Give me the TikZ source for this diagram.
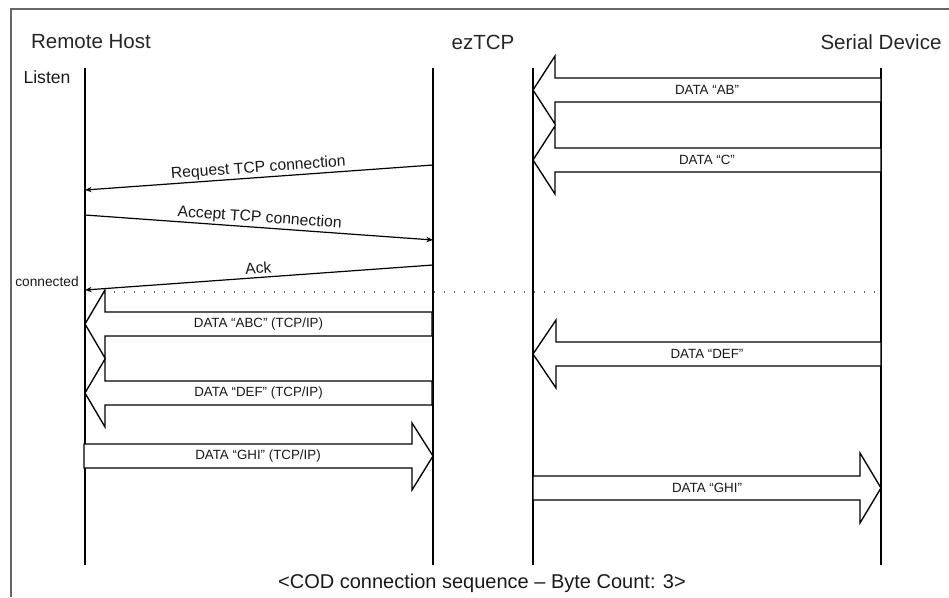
\documentclass[tikz,border=0pt]{standalone}
\usepackage{fontspec}
\setmainfont{Liberation Sans}
\usetikzlibrary{arrows.meta}
\newcommand{\blkL}[6]{% name, tip x, head base x, tail x, centre y, label
  \draw[blockarrow] (#4,#5-12) -- (#3,#5-12) -- (#3,#5-34) -- (#2,#5) -- (#3,#5+34) -- (#3,#5+12) -- (#4,#5+12) -- cycle;
  \node[datalabel] (#1) at ({(#2+#4)/2},#5) {#6};}
\begin{document}
\begin{tikzpicture}[x=0.75pt,y=-0.75pt,
  lifeline/.style={line width=1.2pt, black},
  msgline/.style={line width=0.9pt, black},
  tipS/.style={{Stealth[length=5pt,width=4pt]}-},
  tipE/.style={-{Stealth[length=5pt,width=4pt]}},
  blockarrow/.style={draw=black, line width=1pt, fill=white, line join=miter},
  datalabel/.style={font=\fontsize{10}{12}\selectfont, inner sep=0pt, text=black!90},
  titletext/.style={font=\fontsize{15.4}{18}\selectfont, text=black!85},
  msglabel/.style={font=\fontsize{11.8}{14}\selectfont, sloped, above=0.5pt, inner sep=0.5pt, text=black!90},
  dotline/.style={black!60, line width=0.8pt, dash pattern=on 0.8pt off 6.7pt}
]
\useasboundingbox (0,0) rectangle (949,597);
% frame
\draw[black!60, line width=1.6pt] (11,597) -- (11,9) -- (949,9);

% titles
\node[titletext] (rh) at (91,42) {Remote Host};
\node[titletext] (ez) at (483,42) {ezTCP};
\node[titletext] (sd) at (881,42) {Serial Device};
\node[font=\fontsize{13.2}{15}\selectfont, text=black!90] (listen) at (47,77) {Listen};
\node[font=\fontsize{10.3}{12}\selectfont, text=black!90] (conn) at (47,282) {connected};

% lifelines
\coordinate (rhT) at (85,68);  \coordinate (rhB) at (85,565);
\coordinate (ezaT) at (433,68); \coordinate (ezaB) at (433,565);
\coordinate (ezbT) at (533,68); \coordinate (ezbB) at (533,565);
\coordinate (sdT) at (881,68); \coordinate (sdB) at (881,565);
\draw[lifeline] (rhT) -- (rhB);
\draw[lifeline] (ezaT) -- (ezaB);
\draw[lifeline] (ezbT) -- (ezbB);
\draw[lifeline] (sdT) -- (sdB);

% thin messages
\coordinate (reqE) at (85,190); \coordinate (reqS) at (433,165);
\draw[msgline, tipS] (reqE) -- node[msglabel] (reqL) {Request TCP connection} (reqS);
\coordinate (accS) at (85,215); \coordinate (accE) at (433,240);
\draw[msgline, tipE] (accS) -- node[msglabel] (accL) {Accept TCP connection} (accE);
\coordinate (ackE) at (85,290); \coordinate (ackS) at (433,265);
\draw[msgline, tipS] (ackE) -- node[msglabel, above=1.5pt] (ackL) {Ack} (ackS);

% dotted separator
\coordinate (dotL) at (114,292); \coordinate (dotR) at (880,292);
\draw[dotline] (dotL) -- (dotR);

% block arrows, right side (serial device -> ezTCP)
\blkL{ab}{533}{555}{881}{90}{DATA “AB”}
\blkL{c}{533}{555}{881}{160}{DATA “C”}
\blkL{defs}{533}{556}{881}{354}{DATA “DEF”}

% block arrows, left side (ezTCP -> remote host)
\blkL{abc}{85}{105}{432}{324}{DATA “ABC” (TCP/IP)}
\blkL{def}{85}{105}{432}{393}{DATA “DEF” (TCP/IP)}

% right-pointing block arrows
\draw[blockarrow] (84,444) -- (412,444) -- (412,423) -- (433,456) -- (412,490) -- (412,468) -- (84,468) -- cycle;
\node[datalabel] (ghi) at (258,456) {DATA “GHI” (TCP/IP)};
\draw[blockarrow] (533,476) -- (860,476) -- (860,453) -- (881,488) -- (860,523) -- (860,500) -- (533,500) -- cycle;
\node[datalabel] (ghis) at (707,488) {DATA “GHI”};

% caption
\node[font=\fontsize{15}{18}\selectfont, text=black!90] (cap) at (482,583) {<COD connection sequence – Byte Count: 3>};
\end{tikzpicture}
\end{document}
